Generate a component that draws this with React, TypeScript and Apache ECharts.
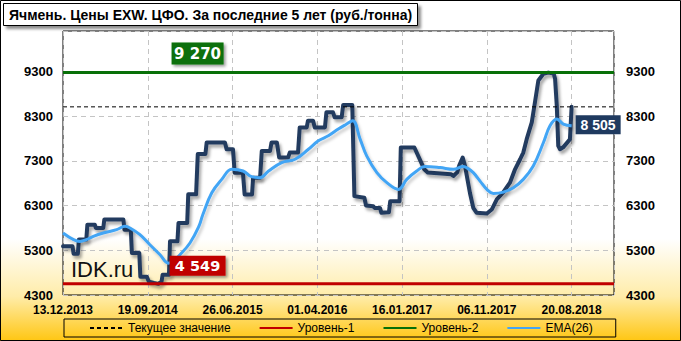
import React, { useEffect, useRef } from 'react';
import * as echarts from 'echarts';

// ---------- data ----------
const titleText = 'Ячмень. Цены EXW. ЦФО. За последние 5 лет (руб./тонна)';
const xTickLabels = ['13.12.2013', '19.09.2014', '26.06.2015', '01.04.2016', '16.01.2017', '06.11.2017', '20.08.2018'];
const weeksPerTick = 40;
const xMaxWeek = 260;
const yMin = 4300;
const yMax = 10200;
const yStep = 1000;

const currentValue = 8505;
const level1 = 4549;
const level2 = 9270;
const legendNames = ['Текущее значение', 'Уровень-1', 'Уровень-2', 'EMA(26)'];
const watermark = 'IDK.ru';

// price (weekly index, rub/t)
const priceWeeks = [
  0, 4.5, 5, 7, 7.5, 11, 11.5, 15, 15.5, 19, 19.5, 28.5, 29, 32, 32.5, 36, 36.5, 39.5, 40.5, 43, 45, 46.5, 47, 50,
  50.5, 54, 54.5, 58.6, 59.1, 62.8, 63.6, 67.2, 67.8, 76.4, 77.2, 80.2, 81, 84.9, 85.7, 89.2, 89.7, 93, 93.8, 97.7,
  98.4, 100.9, 102, 106.2, 107, 110.9, 111.7, 115, 115.6, 118, 118.8, 123.6, 124.3, 127.4, 128.2, 131.5, 132.2, 136.5,
  137.5, 142.2, 143, 146.4, 147, 149.6, 150.2, 153.8, 154.4, 158.8, 159.4, 165.8, 170.5, 172, 183, 184.2, 186, 187,
  188.6, 189.7, 192, 193.6, 195.2, 200, 202.3, 204.7, 207.6, 210.9, 213.3, 215.7, 217.2, 218.8, 221.2, 222.7, 224.3,
  226.7, 229, 231.5, 232.2, 233, 233.7, 234.5, 236, 237.8, 239.2, 240,
];
const priceValues = [
  5390, 5390, 5220, 5220, 5540, 5540, 5870, 5870, 5800, 5800, 5985, 5985, 5760, 5760, 5240, 5240, 4710, 4710, 4600, 4570, 4549, 4600, 4750, 4750,
  5500, 5500, 5910, 5910, 6550, 6550, 7450, 7450, 7710, 7710, 7558, 7558, 7034, 7034, 6547, 6547, 6922, 6922, 7520, 7520,
  7710, 7710, 7372, 7372, 7484, 7484, 8046, 8046, 8195, 8195, 8046, 8046, 8383, 8383, 8270, 8270, 8547, 8547,
  6510, 6473, 6300, 6284, 6247, 6247, 6136, 6150, 6397, 6397, 7597, 7597, 7109, 7040, 7000, 6960, 7040, 7200,
  7372, 7183, 6585, 6247, 6136, 6120, 6210, 6435, 6585, 6810, 7109, 7334, 7484, 7783, 8158, 8608, 9093,
  9244, 9270, 9250, 9131, 8531, 7633, 7558, 7600, 7700, 7780, 8505,
];

// EMA(26)
const emaWeeks = [
  0, 5, 8, 11, 14.3, 19, 25.3, 29.3, 31.6, 36.3, 41, 45.8, 49.7, 52, 55.2, 59.9, 64, 66, 70.2, 74.9, 79.6, 85, 89, 93,
  97, 103.2, 109.5, 115.8, 120.5, 125.2, 129.9, 133.5, 136.7, 140.2, 143.3, 148.1, 152.8, 158.3, 162.2, 166.9, 170.8,
  177.9, 184.2, 188.9, 191, 193.6, 196.8, 200, 203.1, 207.8, 212.5, 217.2, 221.9, 226.7, 229.8, 233, 236.1, 240,
];
const emaValues = [
  5686, 5536, 5498, 5536, 5610, 5686, 5760, 5835, 5798, 5648, 5424, 5199, 5012, 5060, 5199, 5462, 5820, 6100, 6585, 6884, 7109, 7071, 6944, 6922,
  7071, 7258, 7334, 7558, 7745, 7858, 8008, 8110, 8195, 7783, 7408, 7034, 6810, 6660, 6884, 7071, 7170,
  7147, 7109, 7170, 7130, 7034, 6846, 6660, 6570, 6600, 6697, 6884, 7183, 7709, 8082, 8233, 8120, 8082,
];

// ---------- helpers ----------
const fmt = (v: number) => String(v).replace(/\B(?=(\d{3})+(?!\d))/g, ' ');
const zip = (xs: number[], ys: number[]) => xs.map((x, i) => [x, ys[i]]);

const FONT = '"Liberation Sans", Arial, sans-serif';
const BOX_FONT = '"DejaVu Sans", Verdana, sans-serif';
const lineShadow = {
  shadowColor: 'rgba(0,0,0,0.35)',
  shadowBlur: 3,
  shadowOffsetX: 2,
  shadowOffsetY: 3,
};

export default function App() {
  const ref = useRef<HTMLDivElement>(null);

  useEffect(() => {
    if (!ref.current) return;
    const chart = echarts.init(ref.current, undefined, { renderer: 'svg' });

    const axisLabelStyle = {
      fontFamily: FONT,
      fontWeight: 'bold' as const,
      color: '#000',
    };
    const annotationWeek = 63.5;
    const boxShadow = { shadowColor: 'rgba(0,0,0,0.4)', shadowBlur: 3, shadowOffsetX: 2, shadowOffsetY: 2 };

    const option: any = {
      animation: false,
      backgroundColor: new echarts.graphic.LinearGradient(0, 0, 0, 1, [
        { offset: 0, color: '#ffffff' },
        { offset: 0.7, color: '#ffffff' },
        { offset: 0.87, color: '#ffeca8' },
        { offset: 1, color: '#ffc612' },
      ]),
      title: {
        text: titleText,
        left: 3,
        top: 3,
        padding: [5, 6, 4, 6],
        backgroundColor: '#ffffff',
        borderColor: '#000',
        borderWidth: 1,
        shadowColor: 'rgba(0,0,0,0.45)',
        shadowBlur: 3,
        shadowOffsetX: 3,
        shadowOffsetY: 3,
        textStyle: { fontFamily: FONT, fontSize: 14, fontWeight: 'bold', color: '#000' },
      },
      grid: {
        left: 63,
        right: 67,
        top: 31,
        bottom: 46,
        show: true,
        borderColor: '#000',
        borderWidth: 1,
        backgroundColor: 'transparent',
      },
      xAxis: {
        type: 'value',
        min: 0,
        max: xMaxWeek,
        interval: weeksPerTick,
        axisLine: { show: false },
        axisTick: { show: false },
        splitLine: { show: true, lineStyle: { color: '#c4c4c4', type: [5, 4], width: 1 } },
        axisLabel: {
          ...axisLabelStyle,
          fontSize: 12,
          margin: 9,
          showMaxLabel: false,
          formatter: (v: number) => xTickLabels[Math.round(v / weeksPerTick)] ?? '',
        },
      },
      yAxis: [
        {
          type: 'value',
          position: 'left',
          min: yMin,
          max: yMax,
          interval: yStep,
          axisLine: { show: false },
          axisTick: { show: false },
          splitLine: { show: true, lineStyle: { color: '#c4c4c4', type: [5, 4], width: 1 } },
          axisLabel: { ...axisLabelStyle, fontSize: 13, margin: 10, showMaxLabel: false, formatter: (v: number) => String(v) },
        },
        {
          type: 'value',
          position: 'right',
          min: yMin,
          max: yMax,
          interval: yStep,
          axisLine: { show: false },
          axisTick: { show: false },
          splitLine: { show: false },
          axisLabel: { ...axisLabelStyle, fontSize: 13, margin: 12, showMaxLabel: false, formatter: (v: number) => String(v) },
        },
      ],
      legend: {
        data: legendNames,
        left: 64,
        top: 319,
        padding: [3, 23, 3, 25],
        itemGap: 28,
        itemWidth: 33,
        itemHeight: 10,
        borderColor: '#000',
        borderWidth: 1,
        itemStyle: { opacity: 0 },
        textStyle: { fontFamily: FONT, fontSize: 12, color: '#000' },
      },
      graphic: [
        {
          type: 'text',
          left: 71,
          top: 258,
          z: 5,
          style: { text: watermark, fontSize: 22, fontFamily: FONT, fill: '#111' },
        },
        {
          type: 'rect',
          silent: true,
          z: 100,
          shape: { x: 0.5, y: 0.5, width: 680, height: 340 },
          style: { fill: 'none', stroke: '#000', lineWidth: 1 },
        },
      ],
      series: [
        {
          name: 'Цена',
          type: 'line',
          data: zip(priceWeeks, priceValues),
          symbol: 'none',
          itemStyle: { color: '#243b5e' },
          lineStyle: { color: '#243b5e', width: 4, join: 'round', cap: 'round', ...lineShadow },
          endLabel: {
            show: true,
            formatter: (p: any) => fmt(p.value[1]),
            color: '#fff',
            fontFamily: FONT,
            fontWeight: 'bold',
            fontSize: 14,
            backgroundColor: '#1f3a5f',
            padding: [3, 5, 2, 5],
            distance: 4,
            offset: [0, 18],
          },
        },
        {
          name: 'Текущее значение',
          type: 'line',
          data: [[0, currentValue], [xMaxWeek, currentValue]],
          symbol: 'none',
          itemStyle: { color: '#000' },
          lineStyle: { color: '#000', width: 1, type: [4, 3] },
        },
        {
          name: 'Уровень-1',
          type: 'line',
          data: [[0, level1], [xMaxWeek, level1]],
          symbol: 'none',
          itemStyle: { color: '#c00000' },
          lineStyle: { color: '#c00000', width: 3 },
          markPoint: {
            symbol: 'rect',
            symbolSize: [56, 20],
            symbolOffset: [0, -18],
            itemStyle: { color: '#c00000', ...boxShadow },
            label: {
              show: true,
              position: 'inside',
              formatter: () => fmt(level1),
              color: '#fff',
              fontFamily: BOX_FONT,
              fontWeight: 'bold',
              fontSize: 14.5,
            },
            data: [{ coord: [annotationWeek, level1] }],
          },
        },
        {
          name: 'Уровень-2',
          type: 'line',
          data: [[0, level2], [xMaxWeek, level2]],
          symbol: 'none',
          itemStyle: { color: '#087008' },
          lineStyle: { color: '#087008', width: 3 },
          markPoint: {
            symbol: 'rect',
            symbolSize: [52, 22],
            symbolOffset: [0, -19],
            itemStyle: { color: '#087008', ...boxShadow },
            label: {
              show: true,
              position: 'inside',
              formatter: () => fmt(level2),
              color: '#fff',
              fontFamily: BOX_FONT,
              fontWeight: 'bold',
              fontSize: 15,
            },
            data: [{ coord: [annotationWeek, level2] }],
          },
        },
        {
          name: 'EMA(26)',
          type: 'line',
          data: zip(emaWeeks, emaValues),
          symbol: 'none',
          smooth: 0.4,
          itemStyle: { color: '#42a5f5' },
          lineStyle: { color: '#42a5f5', width: 3, ...lineShadow, shadowColor: 'rgba(0,0,0,0.2)' },
        },
      ],
    };

    chart.setOption(option);
    return () => chart.dispose();
  }, []);

  return (
    <div
      ref={ref}
      style={{ position: 'fixed', left: 0, top: 0, width: 681, height: 341 }}
    />
  );
}
